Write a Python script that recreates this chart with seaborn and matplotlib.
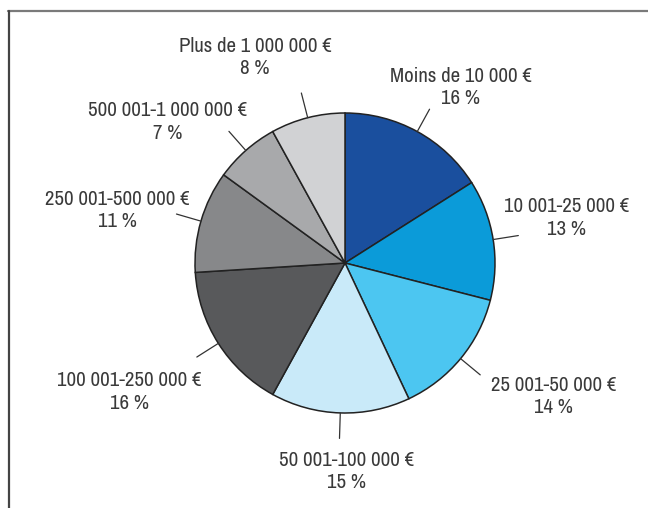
import numpy as np
import seaborn as sns
import matplotlib.pyplot as plt
from matplotlib import font_manager

labels = ["Moins de 10 000 €", "10 001-25 000 €", "25 001-50 000 €", "50 001-100 000 €",
          "100 001-250 000 €", "250 001-500 000 €", "500 001-1 000 000 €", "Plus de 1 000 000 €"]
shares = [16, 13, 14, 15, 16, 11, 7, 8]
colours = ["#1a4f9e", "#0b9bd9", "#4cc6f1", "#c9eaf9", "#58595b", "#87888a", "#a8a9ab", "#d1d2d4"]

# label text centres, relative to pie centre (pie radius = 1)
label_pos = [(0.77, 1.17), (1.48, 0.30), (1.39, -0.89), (0.01, -1.39),
             (-1.44, -0.86), (-1.52, 0.35), (-1.18, 0.94), (-0.60, 1.37)]

sns.set_style("white")
narrow = sorted({f.name for f in font_manager.fontManager.ttflist
                 if "Narrow" in f.name or "Condensed" in f.name})
if narrow:
    plt.rcParams["font.family"] = [narrow[0], "DejaVu Sans"]
    stretch, fsize = "normal", 15
else:
    plt.rcParams["font.family"] = ["DejaVu Sans"]
    stretch, fsize = "condensed", 13

fig = plt.figure(figsize=(6.48, 5.08), dpi=100)
ax = fig.add_axes([0, 0, 1, 1])

wedges, _ = ax.pie(shares, colors=colours, startangle=90, counterclock=False,
                   radius=1, wedgeprops=dict(edgecolor="#222222", linewidth=1.1))

for w, lab, s, pos in zip(wedges, labels, shares, label_pos):
    ang = np.deg2rad((w.theta1 + w.theta2) / 2)
    c, sn = np.cos(ang), np.sin(ang)
    ax.plot([1.0 * c, 1.17 * c], [1.0 * sn, 1.17 * sn], color="#333333", lw=0.9)
    ax.text(pos[0], pos[1], f"{lab}\n{s} %", ha="center", va="center",
            fontsize=fsize, fontstretch=stretch, fontweight="light",
            color="#3a3a3a", linespacing=1.25)

px = 150.0
ax.set_xlim(-345 / px, (648 - 345) / px)
ax.set_ylim(-(508 - 263) / px, 263 / px)
ax.set_aspect("equal")
ax.axis("off")

# frame: top and left edges
fig.add_artist(plt.Line2D([8 / 648, 1], [1 - 10.5 / 508, 1 - 10.5 / 508],
                          color="#7a7a7a", lw=1.6, transform=fig.transFigure))
fig.add_artist(plt.Line2D([8.5 / 648, 8.5 / 648], [0, 1 - 10.5 / 508],
                          color="#444444", lw=1.6, transform=fig.transFigure))

fig.savefig("out.png", dpi=100)
